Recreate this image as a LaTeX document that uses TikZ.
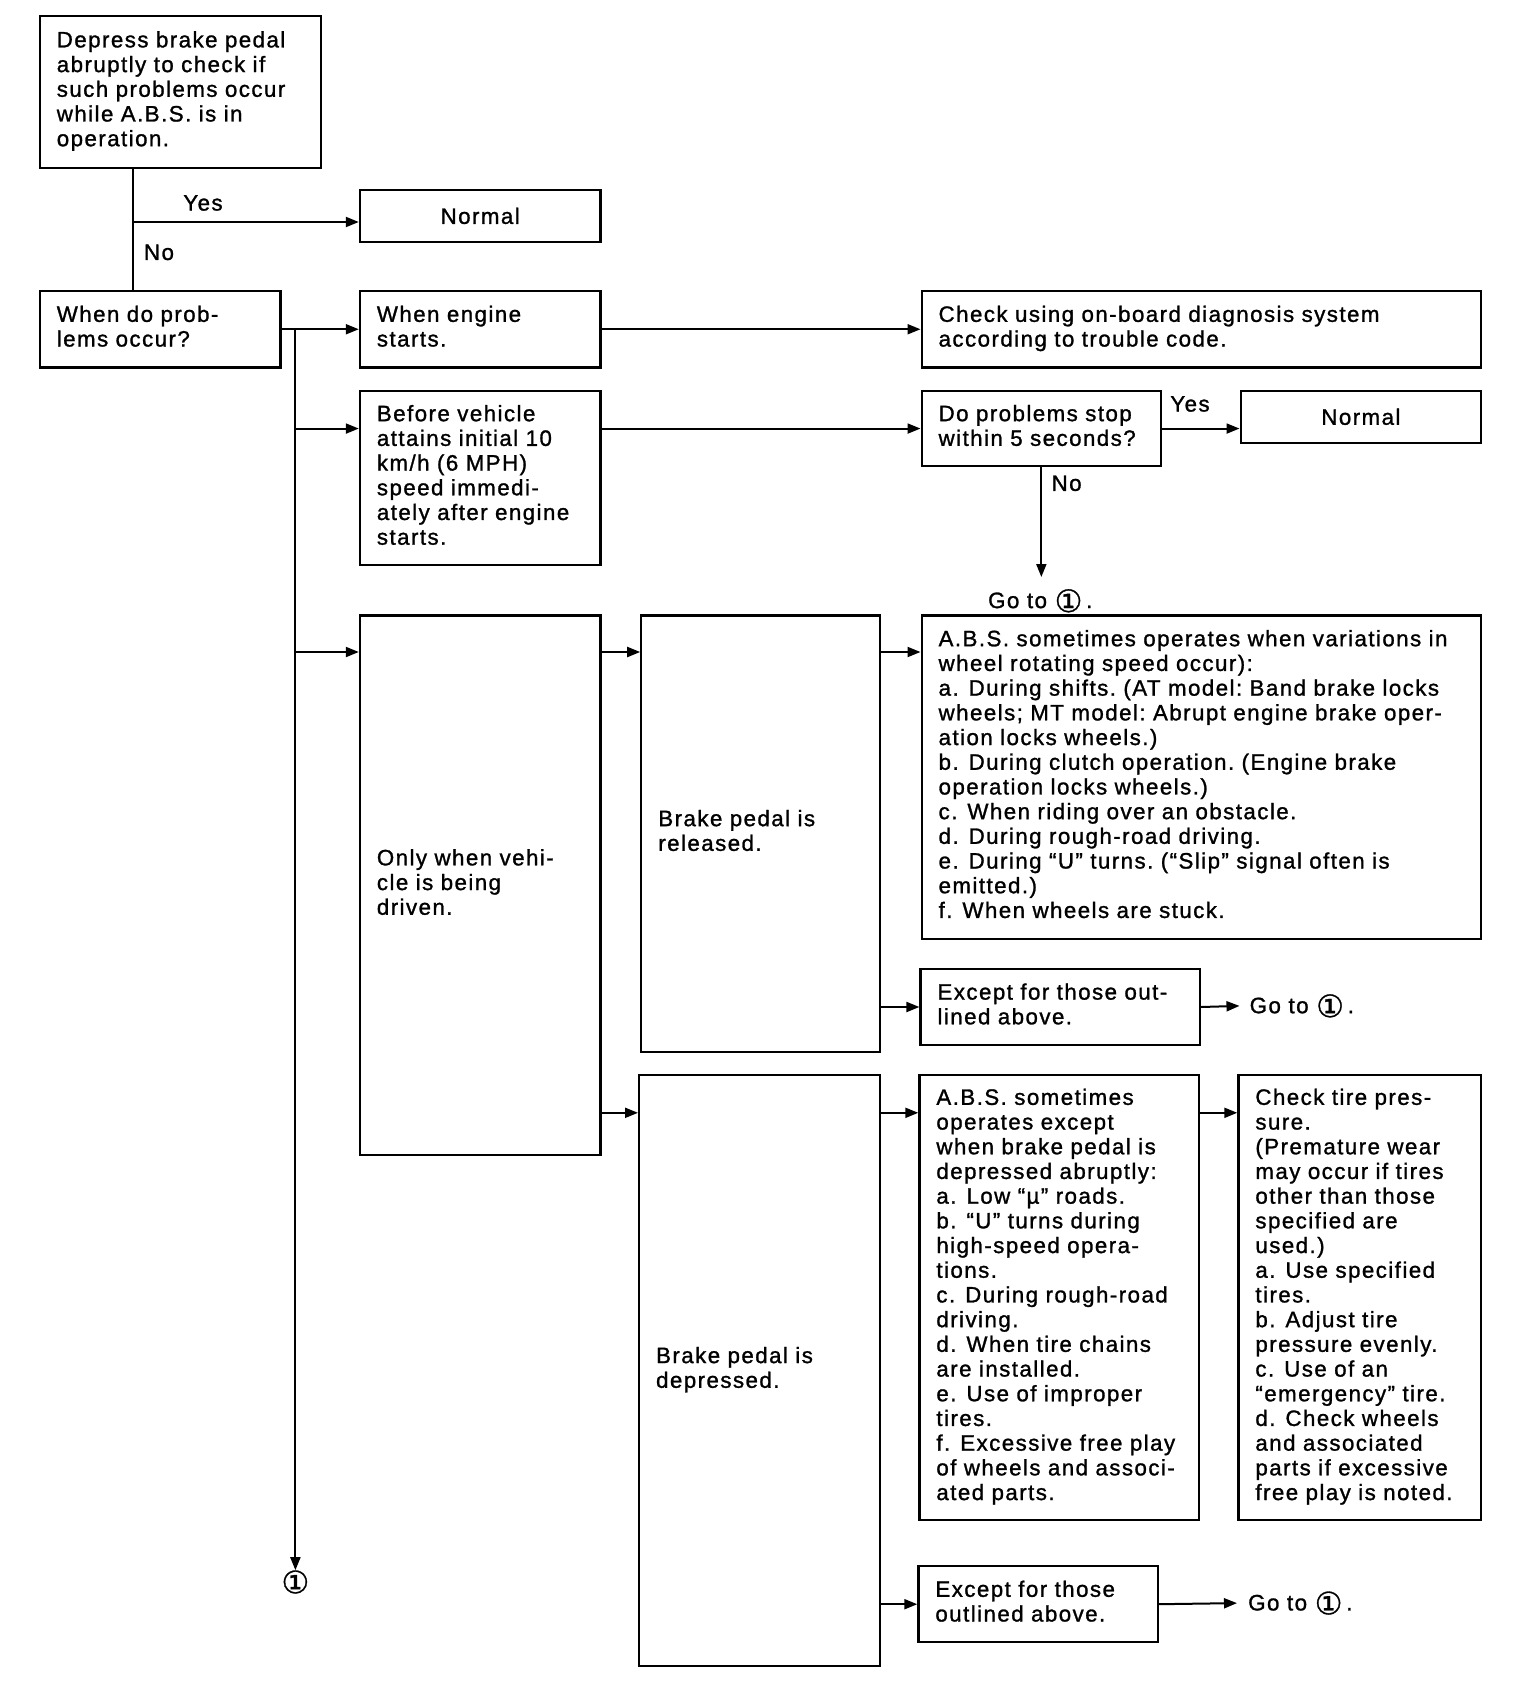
\documentclass[tikz,border=0pt]{standalone}
\usepackage{fontspec}
\setmainfont{Liberation Sans}[LetterSpace=6.5,FakeBold=1.2]
\newfontfamily\cfont{DejaVu Sans}[FakeBold=1]
\usetikzlibrary{arrows.meta}
\frenchspacing
\newcommand{\bfnt}{\fontsize{22.3pt}{24.7pt}\selectfont\frenchspacing}
\newcommand{\lns}[1]{\begin{tabular}{@{}l@{}}#1\end{tabular}}
\newcommand{\one}{\raisebox{-4pt}{\cfont\fontsize{31pt}{31pt}\selectfont ①}}
\newcommand{\gp}{\hspace{0.45em}}
\begin{document}
\begin{tikzpicture}[x=1pt,y=-1pt,
 box/.style={draw, line width=2.2pt, inner xsep=17pt, inner ysep=0pt, anchor=north west, align=left, font=\bfnt},
 lbl/.style={font=\bfnt, inner sep=0pt},
 arr/.style={line width=2pt, -{Triangle[length=13pt,width=10pt]}},
 ln/.style={line width=2pt}]
\useasboundingbox[fill=white] (0,0) rectangle (1536,1684);

% boxes
\node[box, text width=247.4pt, minimum width=281.4pt, minimum height=151.5pt] (dep) at (38.7,15)
 {\lns{Depress brake pedal\\abruptly to check if\\such problems occur\\while A.B.S. is in\\operation.}};
\node[box, align=center, text width=206.6pt, minimum width=240.6pt, minimum height=51.6pt] (norm1) at (358.8,189) {Normal};
\node[box, text width=206.6pt, minimum width=240.6pt, minimum height=76.3pt] (whendo) at (38.7,290)
 {\lns{When do prob-\\lems occur?}};
\node[box, text width=206.6pt, minimum width=240.6pt, minimum height=76.3pt] (engine) at (358.8,290)
 {\lns{When engine\\starts.}};
\node[box, text width=525.6pt, minimum width=559.6pt, minimum height=76.3pt] (check) at (920.5,290)
 {\lns{Check using on-board diagnosis system\\according to trouble code.}};
\node[box, text width=206.6pt, minimum width=240.6pt, minimum height=174pt] (before) at (358.8,389.9)
 {\lns{Before vehicle\\attains initial 10\\km/h (6 MPH)\\speed immedi-\\ately after engine\\starts.}};
\node[box, text width=205.5pt, minimum width=239.5pt, minimum height=75.1pt] (dop) at (920.5,389.9)
 {\lns{Do problems stop\\within 5 seconds?}};
\node[box, align=center, text width=206.6pt, minimum width=240.6pt, minimum height=51.6pt] (norm2) at (1239.5,389.9) {Normal};
\node[box, text width=206.6pt, minimum width=240.6pt, minimum height=539.2pt] (only) at (358.8,614.4)
 {\lns{Only when vehi-\\cle is being\\driven.}};
\node[box, text width=204.4pt, minimum width=238.4pt, minimum height=436.1pt] (rel) at (640.2,614.4)
 {\lns{Brake pedal is\\released.}};
\node[box, text width=525.6pt, minimum width=559.6pt, minimum height=323.3pt] (abs1) at (920.5,614.4)
 {\lns{A.B.S. sometimes operates when variations in\\wheel rotating speed occur):\\a.\gp During shifts. (AT model: Band brake locks\\wheels; MT model: Abrupt engine brake oper-\\ation locks wheels.)\\b.\gp During clutch operation. (Engine brake\\operation locks wheels.)\\c.\gp When riding over an obstacle.\\d.\gp During rough-road driving.\\e.\gp During “U” turns. (“Slip” signal often is\\emitted.)\\f.\gp When wheels are stuck.}};
\node[box, text width=245.3pt, minimum width=279.3pt, minimum height=76.2pt] (exc1) at (919.4,967.8)
 {\lns{Except for those out-\\lined above.}};
\node[box, text width=206.6pt, minimum width=240.6pt, minimum height=590.8pt] (dep2) at (638,1074)
 {\lns{Brake pedal is\\depressed.}};
\node[box, text width=245.3pt, minimum width=279.3pt, minimum height=444.8pt] (abs2) at (918.3,1074)
 {\lns{A.B.S. sometimes\\operates except\\when brake pedal is\\depressed abruptly:\\a.\gp Low “µ” roads.\\b.\gp “U” turns during\\high-speed opera-\\tions.\\c.\gp During rough-road\\driving.\\d.\gp When tire chains\\are installed.\\e.\gp Use of improper\\tires.\\f.\gp Excessive free play\\of wheels and associ-\\ated parts.}};
\node[box, text width=208.8pt, minimum width=242.8pt, minimum height=444.8pt] (tire) at (1237.3,1074)
 {\lns{Check tire pres-\\sure.\\(Premature wear\\may occur if tires\\other than those\\specified are\\used.)\\a.\gp Use specified\\tires.\\b.\gp Adjust tire\\pressure evenly.\\c.\gp Use of an\\“emergency” tire.\\d.\gp Check wheels\\and associated\\parts if excessive\\free play is noted.}};
\node[box, text width=205.5pt, minimum width=239.5pt, minimum height=76.2pt] (exc2) at (917.3,1565)
 {\lns{Except for those\\outlined above.}};

% go-to targets
\node[lbl, anchor=north, inner ysep=12pt] (goA) at (1040.25,577) {Go to \one\,.};
\node[lbl, anchor=west, inner xsep=10pt] (goB) at (1239.5,1005.9) {Go to \one\,.};
\node[lbl, anchor=west, inner xsep=11pt] (goC) at (1237,1603.1) {Go to \one\,.};
\node[inner sep=0pt] (c1) at (295.4,1582) {\one};

% helper coordinates
\coordinate (v) at (133,0);
\coordinate (ya) at (0,222);
\coordinate (r1) at (0,652);
\coordinate (r2) at (0,1112.8);

% connectors
\draw[ln] (dep.south -| v) -- (whendo.north -| v);
\draw[arr] (v |- ya) -- (norm1.west |- ya);
\node[lbl] (yes1) at (203,203) {Yes};
\node[lbl] (no1) at (159,252.4) {No};

\draw[arr] (whendo.east) -- (engine.west);
\draw[arr] (engine.east) -- (check.west);
\draw[arr] (c1.north |- whendo.east) -- (c1.north);
\draw[arr] (c1.north |- dop.west) -- (before.west |- dop.west);
\draw[arr] (c1.north |- r1) -- (only.west |- r1);
\draw[arr] (before.east |- dop.west) -- (dop.west);
\draw[arr] (dop.east) -- (norm2.west |- dop.east);
\node[lbl] (yes2) at (1190,404) {Yes};
\draw[arr] (dop.south) -- (dop.south |- goA.north);
\node[lbl] (no2) at (1066.6,483.3) {No};

\draw[arr] (only.east |- r1) -- (rel.west |- r1);
\draw[arr] (rel.east |- r1) -- (abs1.west |- r1);
\draw[arr] (rel.east |- exc1.west) -- (exc1.west);
\draw[arr] (exc1.east) -- (goB.west);

\draw[arr] (only.east |- r2) -- (dep2.west |- r2);
\draw[arr] (dep2.east |- r2) -- (abs2.west |- r2);
\draw[arr] (abs2.east |- r2) -- (tire.west |- r2);
\draw[arr] (dep2.east |- exc2.west) -- (exc2.west);
\draw[arr] (exc2.east) -- (goC.west);
\end{tikzpicture}
\end{document}
